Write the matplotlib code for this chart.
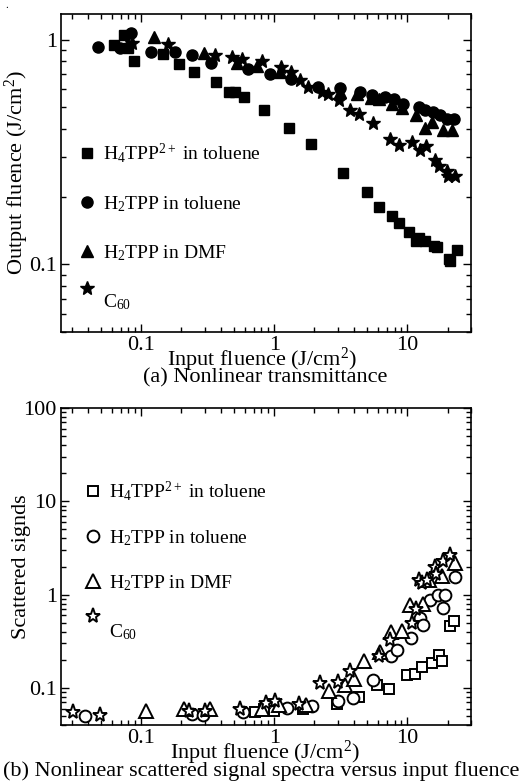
import matplotlib
matplotlib.use("Agg")
import matplotlib.pyplot as plt
from matplotlib.ticker import LogLocator, NullFormatter, FuncFormatter

plt.rcParams['font.family'] = ['Liberation Serif', 'DejaVu Serif']
plt.rcParams['mathtext.fontset'] = 'custom'
plt.rcParams['mathtext.rm'] = 'Liberation Serif'
plt.rcParams['mathtext.it'] = 'Liberation Serif:italic'
plt.rcParams['mathtext.bf'] = 'Liberation Serif:bold'

# ---------------- (a) Nonlinear transmittance ----------------
a_h4_x = [0.062, 0.0738, 0.0801, 0.0889, 0.147, 0.193, 0.248, 0.366, 0.453, 0.509, 0.588,
          0.83, 1.30, 1.87, 3.27, 4.97, 6.08, 7.65, 8.7, 10.2, 11.5, 12.2, 13.6, 15.8, 16.7,
          20.4, 21.0, 23.6]
a_h4_y = [0.95, 1.05, 0.92, 0.80, 0.865, 0.78, 0.717, 0.647, 0.585, 0.585, 0.555,
          0.488, 0.403, 0.343, 0.256, 0.209, 0.18, 0.164, 0.153, 0.139, 0.127, 0.131, 0.127,
          0.121, 0.12, 0.106, 0.104, 0.116]

a_tol_x = [0.0478, 0.069, 0.0837, 0.118, 0.178, 0.24, 0.334, 0.63, 0.933, 1.33, 2.12, 3.1,
           4.4, 5.4, 6.8, 7.88, 9.27, 12.2, 13.6, 15.6, 17.7, 19.9, 22.3]
a_tol_y = [0.93, 0.92, 1.066, 0.88, 0.88, 0.85, 0.786, 0.74, 0.705, 0.67, 0.615, 0.61,
           0.585, 0.565, 0.555, 0.546, 0.519, 0.502, 0.485, 0.477, 0.461, 0.445, 0.445]

a_dmf_x = [0.125, 0.294, 0.524, 0.74, 1.11, 3.1, 4.2, 5.3, 6.08, 7.65, 9.1, 11.5, 13.6,
           15.3, 18.5, 21.7]
a_dmf_y = [1.03, 0.873, 0.79, 0.765, 0.717, 0.585, 0.575, 0.55, 0.546, 0.519, 0.494, 0.461,
           0.403, 0.43, 0.396, 0.396]

a_c60_x = [0.085, 0.16, 0.36, 0.48, 0.57, 0.81, 1.12, 1.33, 1.55, 1.79, 2.28, 2.52, 3.04,
           3.69, 4.3, 5.53, 7.37, 8.6, 10.8, 12.5, 13.8, 16.2, 17.2, 19.9, 20.2, 22.9]
a_c60_y = [0.97, 0.957, 0.856, 0.835, 0.82, 0.80, 0.754, 0.717, 0.659, 0.615, 0.585, 0.575,
           0.537, 0.485, 0.469, 0.424, 0.363, 0.34, 0.351, 0.323, 0.336, 0.291, 0.274,
           0.259, 0.248, 0.248]

# ---------------- (b) Scattered signals ----------------
b_h4_x = [0.72, 0.84, 0.99, 1.64, 2.96, 4.3, 5.9, 7.25, 9.85, 11.3, 12.9, 15.3, 17.2, 18.2,
          20.8, 22.4]
b_h4_y = [0.055, 0.059, 0.057, 0.059, 0.068, 0.079, 0.108, 0.098, 0.139, 0.141, 0.166,
          0.185, 0.227, 0.196, 0.457, 0.526]

b_tol_x = [0.038, 0.24, 0.29, 0.58, 1.25, 1.92, 3.0, 3.9, 5.55, 7.5, 8.4, 10.6, 12.5, 13.1,
           14.7, 17.0, 18.5, 19.3, 22.9]
b_tol_y = [0.050, 0.052, 0.051, 0.055, 0.061, 0.064, 0.072, 0.078, 0.122, 0.218, 0.257,
           0.340, 0.56, 0.477, 0.87, 1.0, 0.725, 1.0, 1.55]

b_dmf_x = [0.109, 0.208, 0.326, 0.81, 1.08, 1.74, 2.56, 3.42, 3.95, 4.74, 6.2, 7.55, 9.1,
           10.4, 13.1, 14.5, 18.3, 22.6]
b_dmf_y = [0.056, 0.0587, 0.059, 0.06, 0.065, 0.066, 0.092, 0.108, 0.123, 0.192, 0.245,
           0.395, 0.404, 0.77, 0.80, 1.45, 1.57, 2.18]

b_c60_x = [0.031, 0.049, 0.227, 0.30, 0.555, 0.87, 1.02, 1.52, 2.2, 3.02, 3.68, 6.1, 7.37,
           10.8, 11.5, 12.2, 12.9, 14.0, 16.2, 16.5, 18.5, 21.0]
b_c60_y = [0.055, 0.051, 0.056, 0.057, 0.059, 0.069, 0.072, 0.068, 0.113, 0.117, 0.151,
           0.22, 0.325, 0.49, 0.70, 1.45, 1.33, 1.45, 2.0, 1.66, 2.3, 2.68]

labels = [r'H$_4$TPP$^{2+}$ in toluene', r'H$_2$TPP in toluene', r'H$_2$TPP in DMF',
          r'C$_{60}$']

xlim = (0.025, 30)
a_ylim = (0.05, 1.3)
b_ylim = (0.04, 100)

TICK_FS = 16
LAB_FS = 16
LEG_FS = 14

fig = plt.figure(figsize=(5.22, 7.83), dpi=100)
W, H = 522.0, 783.0


def px_axes(l, t, r, b):
    return fig.add_axes([l / W, 1 - b / H, (r - l) / W, (b - t) / H])


def fmt(v, pos):
    if v >= 1:
        return '%d' % round(v)
    return ('%g' % v)


def style(ax, ylim):
    ax.set_xscale('log')
    ax.set_yscale('log')
    ax.set_xlim(*xlim)
    ax.set_ylim(*ylim)
    ax.xaxis.set_major_locator(LogLocator(base=10, numticks=10))
    ax.xaxis.set_minor_locator(LogLocator(base=10, subs=range(2, 10), numticks=30))
    ax.yaxis.set_major_locator(LogLocator(base=10, numticks=10))
    ax.yaxis.set_minor_locator(LogLocator(base=10, subs=range(2, 10), numticks=30))
    ax.xaxis.set_major_formatter(FuncFormatter(fmt))
    ax.yaxis.set_major_formatter(FuncFormatter(fmt))
    ax.xaxis.set_minor_formatter(NullFormatter())
    ax.yaxis.set_minor_formatter(NullFormatter())
    ax.tick_params(which='both', direction='in', top=True, right=True, labelsize=TICK_FS,
                   width=1.0, colors='black')
    ax.tick_params(which='major', length=6, pad=3)
    ax.tick_params(which='minor', length=3.5)
    for s in ax.spines.values():
        s.set_linewidth(1.2)


leg_kw = dict(loc='upper left', frameon=False, fontsize=LEG_FS, handlelength=0.8,
              handletextpad=0.45, borderpad=0, borderaxespad=0)

# ---- top panel ----
ax1 = px_axes(61, 14, 471, 332)
style(ax1, a_ylim)
ms = dict(linestyle='none', color='black')
h1, = ax1.plot(a_h4_x, a_h4_y, marker='s', markersize=7, **ms)
h2, = ax1.plot(a_tol_x, a_tol_y, marker='o', markersize=8, **ms)
h3, = ax1.plot(a_dmf_x, a_dmf_y, marker='^', markersize=8.5, **ms)
h4, = ax1.plot(a_c60_x, a_c60_y, marker='*', markersize=10, **ms)
lega = ax1.legend([h1, h2, h3], labels[:3], bbox_to_anchor=(0.044, 0.60),
                  labelspacing=1.5, **leg_kw)
ax1.add_artist(lega)
legb = ax1.legend([h4], labels[3:], bbox_to_anchor=(0.044, 0.164), **leg_kw)
legb.get_texts()[0].set_y(-12)
ax1.set_ylabel(r'Output fluence (J/cm$^2$)', fontsize=LAB_FS)
ax1.yaxis.set_label_coords(-0.072, 0.5)
fig.text(262 / W, 1 - 360 / H, r'Input fluence (J/cm$^2$)', fontsize=LAB_FS,
         ha='center', va='center')
fig.text(265 / W, 1 - 378 / H, '(a) Nonlinear transmittance', fontsize=LAB_FS,
         ha='center', va='center')

# ---- bottom panel ----
ax2 = px_axes(61, 408, 471, 725)
style(ax2, b_ylim)
mo = dict(linestyle='none', color='black', markerfacecolor='white', markeredgewidth=1.4)
g1, = ax2.plot(b_h4_x, b_h4_y, marker='s', markersize=7.5, **mo)
g2, = ax2.plot(b_tol_x, b_tol_y, marker='o', markersize=8.5, **mo)
g3, = ax2.plot(b_dmf_x, b_dmf_y, marker='^', markersize=9.5, **mo)
g4, = ax2.plot(b_c60_x, b_c60_y, marker='*', markersize=11, **mo)
legc = ax2.legend([g1, g2, g3], labels[:3], bbox_to_anchor=(0.059, 0.776),
                  labelspacing=1.3, **leg_kw)
ax2.add_artist(legc)
legd = ax2.legend([g4], labels[3:], bbox_to_anchor=(0.059, 0.369), **leg_kw)
legd.get_texts()[0].set_y(-14)
ax2.set_ylabel('Scattered signds', fontsize=LAB_FS)
ax2.yaxis.set_label_coords(-0.072, 0.5)
fig.text(265 / W, 1 - 753 / H, r'Input fluence (J/cm$^2$)', fontsize=LAB_FS,
         ha='center', va='center')
fig.text(261 / W, 1 - 771 / H, '(b) Nonlinear scattered signal spectra versus input fluence',
         fontsize=LAB_FS, ha='center', va='center')

fig.text(5 / W, 1 - 5 / H, '.', fontsize=8, ha='left', va='center')

fig.savefig('out.png', dpi=100)
